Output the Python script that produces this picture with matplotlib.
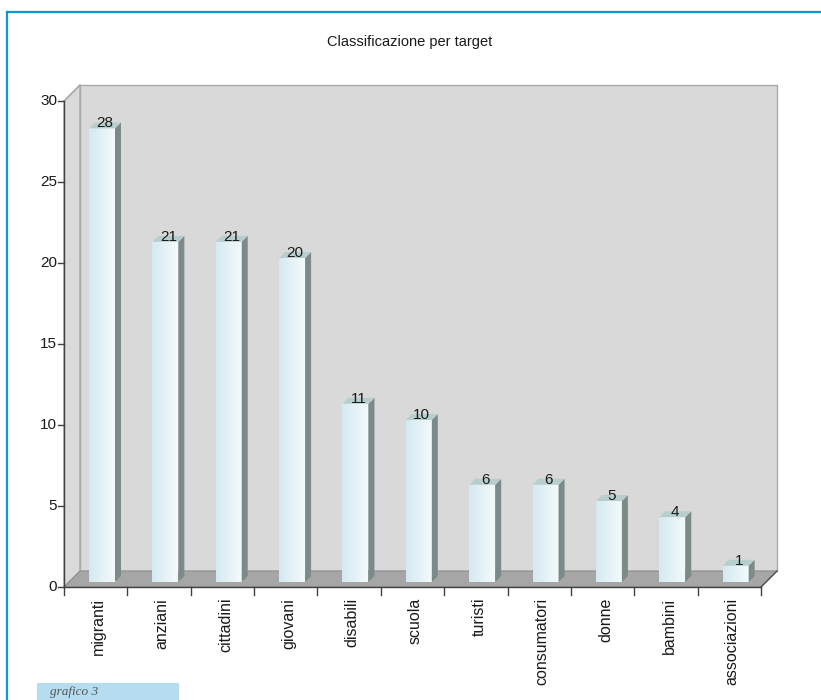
import matplotlib
matplotlib.use("Agg")
import matplotlib.pyplot as plt
import numpy as np
from matplotlib.patches import Polygon, Rectangle
from matplotlib.lines import Line2D
from matplotlib.colors import LinearSegmentedColormap

plt.rcParams['font.family'] = ['Liberation Sans', 'DejaVu Sans']

title = "Classificazione per target"
categories = ["migranti", "anziani", "cittadini", "giovani", "disabili", "scuola",
              "turisti", "consumatori", "donne", "bambini", "associazioni"]
values = [28, 21, 21, 20, 11, 10, 6, 6, 5, 4, 1]
yticks = [0, 5, 10, 15, 20, 25, 30]

W, H = 821, 700
fig = plt.figure(figsize=(W / 100, H / 100), dpi=100)
fig.patch.set_facecolor("white")

# front plane of the plot in pixels
X0, X1 = 64, 761
Y0, Y1 = 587, 101
ax = fig.add_axes([X0 / W, (H - Y0) / H, (X1 - X0) / W, (Y0 - Y1) / H])
n = len(categories)
ymax = yticks[-1]
ax.set_xlim(0, n)
ax.set_ylim(0, ymax)
ax.set_autoscale_on(False)
ax.axis("off")

px = n / (X1 - X0)       # data units per pixel (x)
py = ymax / (Y0 - Y1)    # data units per pixel (y)

D = 16  # wall depth in px
wall = "#d9d9d9"
wall_edge = "#a9a9a9"
floor_c = "#a6a6a6"

# back wall
ax.add_patch(Rectangle((D * px, D * py), n, ymax, facecolor=wall,
                       edgecolor=wall_edge, lw=1.0, clip_on=False, zorder=1))
# left wall
ax.add_patch(Polygon([(0, 0), (D * px, D * py), (D * px, ymax + D * py), (0, ymax)],
                     closed=True, facecolor="#dadada", edgecolor=wall_edge, lw=1.0,
                     clip_on=False, zorder=1))
# floor
ax.add_patch(Polygon([(0, 0), (n, 0), (n + D * px, D * py), (D * px, D * py)],
                     closed=True, facecolor=floor_c, edgecolor="#8f8f8f", lw=0.8,
                     clip_on=False, zorder=2))

# bars
grad = np.linspace(0, 1, 64).reshape(1, -1)
cmap = LinearSegmentedColormap.from_list("bar", ["#d4eaf1", "#f4fafc"])
bw = 26 * px
d_x, d_y = 6 * px, 6 * py
base = 5 * py
for i, v in enumerate(values):
    fl = i + 25 * px
    fr = fl + bw
    top = base + v
    ax.imshow(grad, cmap=cmap, extent=(fl, fr, base, top), aspect="auto",
              zorder=4, interpolation="bilinear")
    ax.add_patch(Polygon([(fr, base), (fr + d_x, base + d_y), (fr + d_x, top + d_y), (fr, top)],
                         closed=True, facecolor="#7d8a8a", edgecolor="none", zorder=4))
    ax.add_patch(Polygon([(fl, top), (fl + d_x, top + d_y), (fr + d_x, top + d_y), (fr, top)],
                         closed=True, facecolor="#b8cece", edgecolor="none", zorder=4))
    ax.text((fl + fr) / 2 + 3 * px, top + 1 * py, str(v), ha="center", va="baseline",
            fontsize=11, color="#1a1a1a", zorder=6)

# axes lines
axc = "#404040"
ax.add_line(Line2D([0, 0], [0, ymax], color=axc, lw=1.0, clip_on=False, zorder=5))
ax.add_line(Line2D([0, n], [0, 0], color=axc, lw=1.0, clip_on=False, zorder=5))
ax.add_line(Line2D([0, D * px], [ymax, ymax + D * py], color="#a9a9a9", lw=1.0, clip_on=False, zorder=5))
ax.add_line(Line2D([n, n + D * px], [0, D * py], color="#505050", lw=1.0, clip_on=False, zorder=5))
for t in yticks:
    ax.add_line(Line2D([-6 * px, 0], [t, t], color=axc, lw=1.0, clip_on=False, zorder=5))
    ax.text(-7 * px, t, str(t), ha="right", va="center", fontsize=11, color="#1a1a1a")
for i in range(n + 1):
    ax.add_line(Line2D([i, i], [0, -8 * py], color=axc, lw=1.0, clip_on=False, zorder=5))
for i, c in enumerate(categories):
    ax.text(i + 0.5 + 3 * px, -11 * py, c, rotation=90, ha="center", va="top",
            fontsize=11.5, color="#1a1a1a")

fig.text(410 / W, 1 - 42 / H, title, ha="center", va="center", fontsize=10.5, color="#1a1a1a")

# outer frame
blue = "#0a98d6"
fig.add_artist(Line2D([7 / W, 7 / W], [0, 1 - 12 / H], transform=fig.transFigure, color=blue, lw=1.6))
fig.add_artist(Line2D([7 / W, 1], [1 - 12 / H, 1 - 12 / H], transform=fig.transFigure, color=blue, lw=1.6))

# caption box at the bottom-left
fig.add_artist(Rectangle((37 / W, 0), (179 - 37) / W, (700 - 683) / H, transform=fig.transFigure,
                         facecolor="#b5dcef", edgecolor="none"))
fig.text(50 / W, 1 - 691.5 / H, "grafico 3", ha="left", va="center", fontsize=9.5,
         style="italic", family=["Liberation Serif", "DejaVu Serif"], color="#555555")

fig.savefig("out.png", dpi=100)
